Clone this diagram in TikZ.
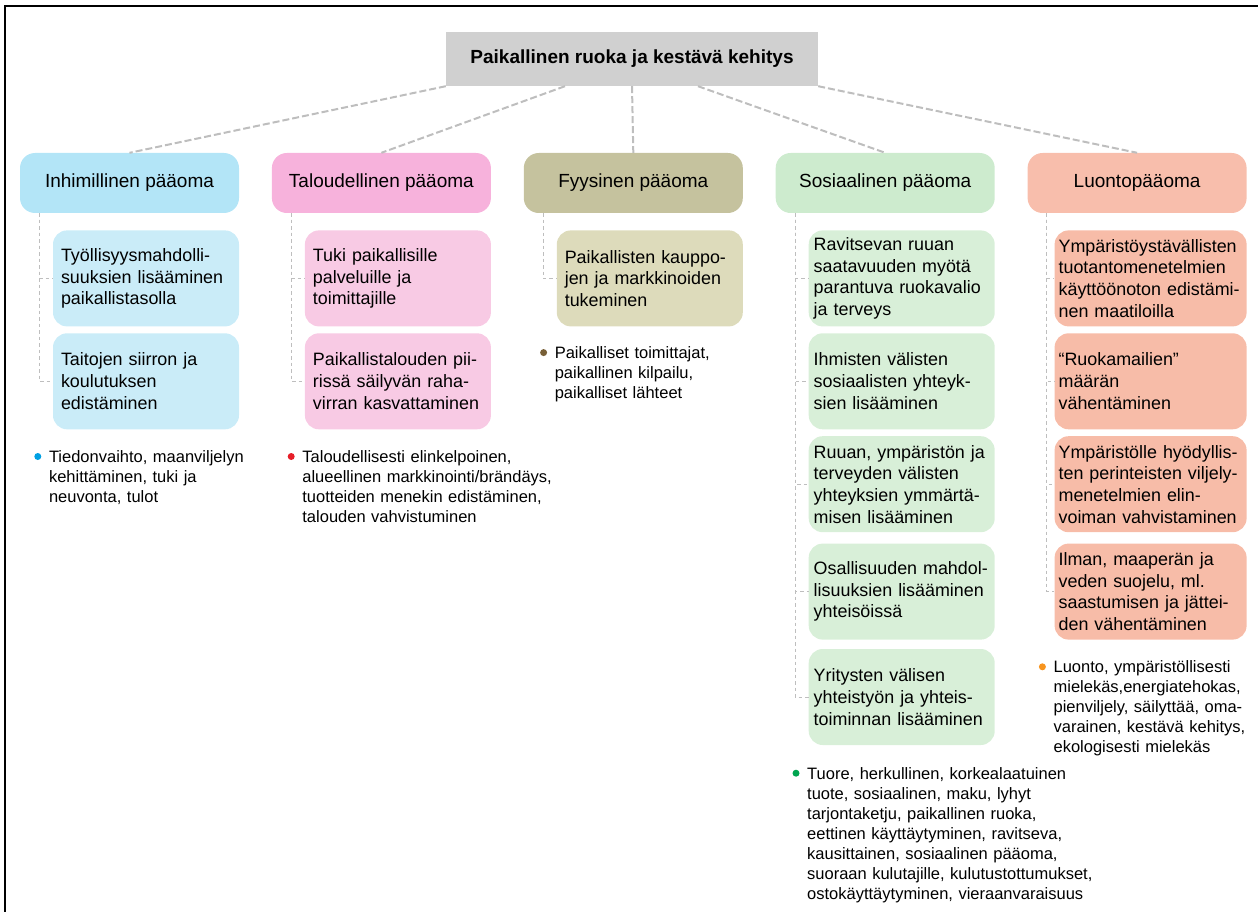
\documentclass[tikz,border=0pt]{standalone}
\usepackage{fontspec}
\setmainfont{Liberation Sans}
\usetikzlibrary{positioning}

\definecolor{headfill}{RGB}{208,208,208}
\definecolor{humcap}{RGB}{179,229,247}
\definecolor{humsub}{RGB}{202,236,248}
\definecolor{ecocap}{RGB}{247,178,220}
\definecolor{ecosub}{RGB}{248,202,228}
\definecolor{phycap}{RGB}{197,194,158}
\definecolor{physub}{RGB}{221,219,187}
\definecolor{soccap}{RGB}{205,235,206}
\definecolor{socsub}{RGB}{216,239,216}
\definecolor{natcap}{RGB}{248,190,172}
\definecolor{natsub}{RGB}{247,188,168}
\definecolor{linkgray}{RGB}{190,190,190}
\definecolor{dotblue}{RGB}{0,160,227}
\definecolor{dotred}{RGB}{230,30,40}
\definecolor{dotbrown}{RGB}{120,95,55}
\definecolor{dotgreen}{RGB}{0,165,80}
\definecolor{dotorange}{RGB}{247,148,30}

\begin{document}
\begin{tikzpicture}[
    x=1pt, y=-1pt,
    headbox/.style={fill=headfill, minimum width=372pt, minimum height=54pt, font=\fontsize{19}{23}\selectfont\bfseries},
    capbox/.style={rounded corners=15pt, minimum width=219pt, minimum height=60pt, font=\fontsize{19}{23}\selectfont},
    subbox/.style={rounded corners=14pt, minimum height=96pt, inner xsep=8pt, inner ysep=2pt, text width=170pt, align=left, font=\fontsize{17.9}{21.7}\selectfont},
    widesub/.style={subbox, inner xsep=5pt, text width=176pt},
    widestsub/.style={subbox, inner xsep=4pt, text width=184pt},
    notetext/.style={inner sep=0pt, text width=300pt, align=left, font=\fontsize{16.5}{20}\selectfont},
    dotmark/.style={circle, inner sep=0pt, minimum size=7pt},
    trunk/.style={draw=linkgray, line width=2pt, dash pattern=on 7pt off 3pt},
    twig/.style={draw=linkgray, line width=0.9pt, dash pattern=on 3.5pt off 3pt}
]
\useasboundingbox (0,0) rectangle (1258,912);

% Frame
\draw[line width=1.2pt] (5,912) |- (1258,6);

% Nodes
\node (head) [headbox] at (632,59) {Paikallinen ruoka ja kestävä kehitys};

\node (hum) [capbox, fill=humcap] at (129.5,183) {Inhimillinen pääoma};
\node (eco) [capbox, fill=ecocap, right=32.5pt of hum] {Taloudellinen pääoma};
\node (phy) [capbox, fill=phycap, right=32.5pt of eco] {Fyysinen pääoma};
\node (soc) [capbox, fill=soccap, right=32.5pt of phy] {Sosiaalinen pääoma};
\node (nat) [capbox, fill=natcap, right=32.5pt of soc] {Luontopääoma};

\node (hum1) [subbox, fill=humsub, below=17pt of hum.south east, anchor=north east] {Työllisyysmahdolli-\\suuksien lisääminen\\paikallistasolla};
\node (hum2) [subbox, fill=humsub, below=6.5pt of hum1] {Taitojen siirron ja\\koulutuksen\\edistäminen};

\node (eco1) [subbox, fill=ecosub, below=17pt of eco.south east, anchor=north east] {Tuki paikallisille\\palveluille ja\\toimittajille};
\node (eco2) [subbox, fill=ecosub, below=6.5pt of eco1] {Paikallistalouden pii-\\rissä säilyvän raha-\\virran kasvattaminen};

\node (phy1) [subbox, fill=physub, below=17pt of phy.south east, anchor=north east] {Paikallisten kauppo-\\jen ja markkinoiden\\tukeminen};

\node (soc1) [widesub, fill=socsub, below=17pt of soc.south east, anchor=north east] {Ravitsevan ruuan\\saatavuuden myötä\\parantuva ruokavalio\\ja terveys};
\node (soc2) [widesub, fill=socsub, below=6.5pt of soc1] {Ihmisten välisten\\sosiaalisten yhteyk-\\sien lisääminen};
\node (soc3) [widesub, fill=socsub, below=6.5pt of soc2] {Ruuan, ympäristön ja\\terveyden välisten\\yhteyksien ymmärtä-\\misen lisääminen};
\node (soc4) [widesub, fill=socsub, below=11pt of soc3] {Osallisuuden mahdol-\\lisuuksien lisääminen\\yhteisöissä};
\node (soc5) [widesub, fill=socsub, below=9pt of soc4] {Yritysten välisen\\yhteistyön ja yhteis-\\toiminnan lisääminen};

\node (nat1) [widestsub, fill=natsub, below=17pt of nat.south east, anchor=north east] {Ympäristöystävällisten\\tuotantomenetelmien\\käyttöönoton edistämi-\\nen maatiloilla};
\node (nat2) [widestsub, fill=natsub, below=6.5pt of nat1] {“Ruokamailien”\\määrän\\vähentäminen};
\node (nat3) [widestsub, fill=natsub, below=6.5pt of nat2] {Ympäristölle hyödyllis-\\ten perinteisten viljely-\\menetelmien elin-\\voiman vahvistaminen};
\node (nat4) [widestsub, fill=natsub, below=11pt of nat3] {Ilman, maaperän ja\\veden suojelu, ml.\\saastumisen ja jättei-\\den vähentäminen};

% Notes
\node (humnote) [notetext, below right=21pt and -4pt of hum2.south west] {Tiedonvaihto, maanviljelyn\\kehittäminen, tuki ja\\neuvonta, tulot};
\node (econote) [notetext, below right=21pt and -2.5pt of eco2.south west] {Taloudellisesti elinkelpoinen,\\alueellinen markkinointi/brändäys,\\tuotteiden menekin edistäminen,\\talouden vahvistuminen};
\node (phynote) [notetext, below right=20pt and -2pt of phy1.south west] {Paikalliset toimittajat,\\paikallinen kilpailu,\\paikalliset lähteet};
\node (socnote) [notetext, below right=22pt and -1.5pt of soc5.south west] {Tuore, herkullinen, korkealaatuinen\\tuote, sosiaalinen, maku, lyhyt\\tarjontaketju, paikallinen ruoka,\\eettinen käyttäytyminen, ravitseva,\\kausittainen, sosiaalinen pääoma,\\suoraan kulutajille, kulutustottumukset,\\ostokäyttäytyminen, vieraanvaraisuus};
\node (natnote) [notetext, below right=21pt and -1pt of nat4.south west] {Luonto, ympäristöllisesti\\mielekäs,energiatehokas,\\pienviljely, säilyttää, oma-\\varainen, kestävä kehitys,\\ekologisesti mielekäs};

\node (humdot) [dotmark, fill=dotblue] at ([xshift=-11pt, yshift=-6pt]humnote.north west) {};
\node (ecodot) [dotmark, fill=dotred] at ([xshift=-11pt, yshift=-6pt]econote.north west) {};
\node (phydot) [dotmark, fill=dotbrown] at ([xshift=-11pt, yshift=-6pt]phynote.north west) {};
\node (socdot) [dotmark, fill=dotgreen] at ([xshift=-11pt, yshift=-6pt]socnote.north west) {};
\node (natdot) [dotmark, fill=dotorange] at ([xshift=-11pt, yshift=-6pt]natnote.north west) {};

% Edges
\draw [trunk] (head.south west) -- (hum.north);
\draw [trunk] ([xshift=-67pt]head.south) -- (eco.north);
\draw [trunk] (head.south) -- (phy.north);
\draw [trunk] ([xshift=66pt]head.south) -- (soc.north);
\draw [trunk] (head.south east) -- (nat.north);

\draw [twig] ([xshift=19.5pt]hum.south west) |- (hum1.west);
\draw [twig] ([xshift=19.5pt]hum.south west) |- (hum2.west);
\draw [twig] ([xshift=19.5pt]eco.south west) |- (eco1.west);
\draw [twig] ([xshift=19.5pt]eco.south west) |- (eco2.west);
\draw [twig] ([xshift=19.5pt]phy.south west) |- (phy1.west);
\draw [twig] ([xshift=19.5pt]soc.south west) |- (soc1.west);
\draw [twig] ([xshift=19.5pt]soc.south west) |- (soc2.west);
\draw [twig] ([xshift=19.5pt]soc.south west) |- (soc3.west);
\draw [twig] ([xshift=19.5pt]soc.south west) |- (soc4.west);
\draw [twig] ([xshift=19.5pt]soc.south west) |- (soc5.west);
\draw [twig] ([xshift=19.5pt]nat.south west) |- (nat1.west);
\draw [twig] ([xshift=19.5pt]nat.south west) |- (nat2.west);
\draw [twig] ([xshift=19.5pt]nat.south west) |- (nat3.west);
\draw [twig] ([xshift=19.5pt]nat.south west) |- (nat4.west);

\end{tikzpicture}
\end{document}
